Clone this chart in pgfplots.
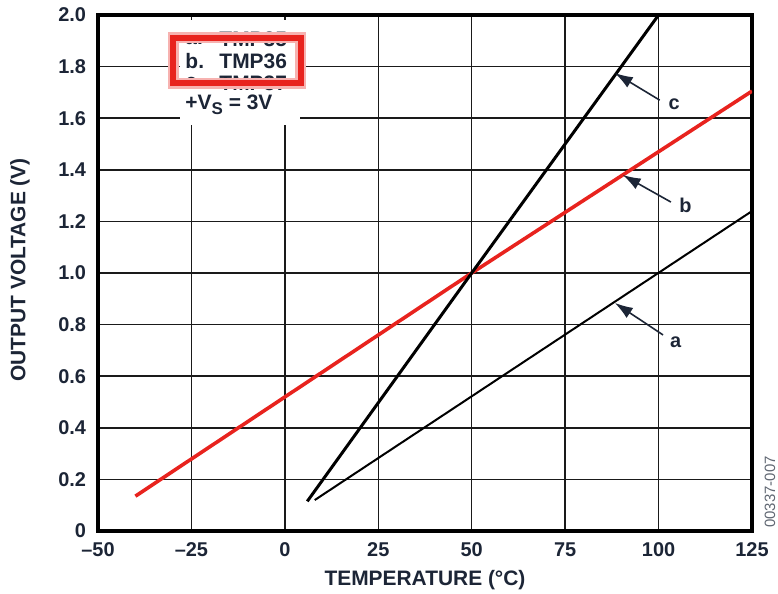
\documentclass[border=0pt]{standalone}
\usepackage{fontspec}
\setmainfont{Liberation Sans}
\usepackage{pgfplots}
\pgfplotsset{compat=1.18}
\usetikzlibrary{arrows.meta}
\definecolor{gridk}{HTML}{1A1A1A}
\definecolor{tmpred}{HTML}{E8231E}
\definecolor{lblnavy}{HTML}{1C2536}

\begin{document}
\begin{tikzpicture}
\useasboundingbox (-49bp,-31.5bp) rectangle (340bp,265.5bp);
\begin{axis}[
    scale only axis,
    width=327bp,
    height=258bp,
    xmin=-50, xmax=125,
    ymin=0, ymax=2,
    xtick={-50,-25,0,25,50,75,100,125},
    xticklabels={\textendash50,\textendash25,0,25,50,75,100,125},
    ytick={0,0.2,0.4,0.6,0.8,1.0,1.2,1.4,1.6,1.8,2.0},
    yticklabels={0,0.2,0.4,0.6,0.8,1.0,1.2,1.4,1.6,1.8,2.0},
    grid=major,
    grid style={draw=gridk, line width=0.75bp},
    axis line style={line width=1.6bp},
    major tick length=0pt,
    tick label style={font=\bfseries\fontsize{10}{11}\selectfont, text=lblnavy},
    xticklabel style={yshift=-2.5bp},
    yticklabel style={xshift=-2.5bp},
    xlabel={TEMPERATURE (°C)},
    ylabel={OUTPUT VOLTAGE (V)},
    label style={font=\bfseries\fontsize{10.5}{12}\selectfont, text=lblnavy},
    xlabel style={at={(axis description cs:0.5,-0.095)}, anchor=center},
    ylabel style={at={(axis description cs:-0.1193,0.506)}, anchor=center},
    clip mode=individual,
]
% white patch behind the legend text
\fill[white] (axis cs:-28.1,1.98) rectangle (axis cs:4.1,1.575);

% a. TMP35, b. TMP36, c. TMP37
\addplot[black, line width=1bp] coordinates {(8,0.12) (125,1.24)};
\addplot[tmpred, line width=1.8bp] coordinates {(-40,0.135) (50,1.0) (125,1.705)};
\addplot[black, line width=1.5bp] coordinates {(6,0.115) (50,1.0) (100,2.0)};

% legend text
\begin{scope}[every node/.style={font=\bfseries\fontsize{10.5}{11}\selectfont, text=lblnavy, anchor=west, inner sep=0pt}]
\node at (axis cs:-26.7,1.907) {a.};
\node at (axis cs:-17.6,1.907) {TMP35};
\node at (axis cs:-26.7,1.822) {b.};
\node at (axis cs:-17.6,1.822) {TMP36};
\node at (axis cs:-26.7,1.736) {c.};
\node at (axis cs:-17.6,1.736) {TMP37};
\node at (axis cs:-26.7,1.652) {+V\raisebox{-0.45ex}{\fontsize{8.5}{9}\selectfont S} = 3V};
\end{scope}
% red highlight box
\draw[tmpred!35, line width=5.5bp] (axis cs:-29.8,1.912) rectangle (axis cs:4.3,1.735);
\draw[tmpred, line width=3bp] (axis cs:-29.8,1.912) rectangle (axis cs:4.3,1.735);

% curve callouts
\begin{scope}[lblnavy, line width=0.8bp, -{Latex[length=9bp,width=6bp]}]
\draw (axis cs:100.3,1.67) -- (axis cs:88.3,1.775);
\draw (axis cs:103.3,1.275) -- (axis cs:90.4,1.38);
\draw (axis cs:101.2,0.76) -- (axis cs:88.3,0.884);
\end{scope}
\begin{scope}[every node/.style={font=\bfseries\fontsize{10}{11}\selectfont, text=lblnavy}]
\node at (axis cs:104.2,1.655) {c};
\node at (axis cs:107.2,1.262) {b};
\node at (axis cs:104.6,0.73) {a};
\end{scope}
\end{axis}
\node[rotate=90, font=\fontsize{7.5}{8}\selectfont, text=lblnavy!70] at (336bp,19.5bp) {00337-007};
\end{tikzpicture}
\end{document}
